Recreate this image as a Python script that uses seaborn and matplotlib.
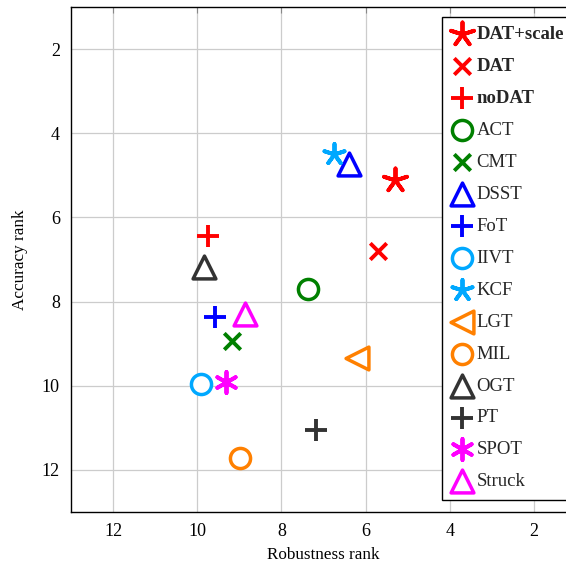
import matplotlib
matplotlib.use("Agg")
import matplotlib.pyplot as plt
import seaborn as sns

# tracker ranks
trackers = ['DAT+scale', 'DAT', 'noDAT', 'ACT', 'CMT', 'DSST', 'FoT', 'IIVT',
            'KCF', 'LGT', 'MIL', 'OGT', 'PT', 'SPOT', 'Struck']
robustness = [5.31, 5.71, 9.74, 7.36, 9.17, 6.40, 9.57, 9.90,
              6.76, 6.21, 8.98, 9.83, 7.19, 9.31, 8.86]
accuracy = [5.10, 6.79, 6.45, 7.69, 8.93, 4.74, 8.36, 9.95,
            4.50, 9.33, 11.71, 7.19, 11.05, 9.90, 8.29]

RED, GREEN, BLUE = '#ff0000', '#008000', '#0000ff'
CYAN, ORANGE, DARK, MAGENTA = '#00a8ff', '#ff8000', '#333333', '#ff00ff'
colors = [RED, RED, RED, GREEN, GREEN, BLUE, BLUE, CYAN,
          CYAN, ORANGE, ORANGE, DARK, DARK, MAGENTA, MAGENTA]
# (marker, size in pt^2, open?)
markers = [((5, 2, 0), 300, False), ('x', 140, False), ('+', 250, False),
           ('o', 210, True), ('x', 140, False), ('^', 270, True),
           ('+', 250, False), ('o', 210, True), ((5, 2, 0), 230, False),
           ('<', 270, True), ('o', 210, True), ('^', 270, True),
           ('+', 250, False), ((6, 2, 0), 230, False), ('^', 270, True)]
bold = {'DAT+scale', 'DAT', 'noDAT'}

sns.set_theme(style='whitegrid')
plt.rcParams['font.family'] = ['Liberation Serif', 'DejaVu Serif']

fig = plt.figure(figsize=(5.66, 5.65), dpi=100)
ax = fig.add_axes([71 / 566, 53 / 565, 505 / 566, 505 / 565])

for name, xr, yr, c, (m, s, hollow) in zip(trackers, robustness, accuracy, colors, markers):
    if hollow:
        sns.scatterplot(x=[xr], y=[yr], ax=ax, marker=m, s=s, facecolor='white',
                        edgecolor=c, linewidth=2.5, label=name, zorder=3)
    else:
        sns.scatterplot(x=[xr], y=[yr], ax=ax, marker=m, s=s, color=c,
                        linewidth=2.8, label=name, zorder=3)

ax.set_xlim(13, 1)
ax.set_ylim(13, 1)
ax.set_xticks([12, 10, 8, 6, 4, 2])
ax.set_yticks([2, 4, 6, 8, 10, 12])
ax.grid(True, color='#cccccc', linewidth=0.9)
ax.set_facecolor('white')
for sp in ax.spines.values():
    sp.set_color('black')
    sp.set_linewidth(1.0)
ax.tick_params(direction='in', length=4, width=0.8, color='#888888',
               top=True, right=True, labelsize=13, labelcolor='black', pad=8)
ax.set_xlabel('Robustness rank', fontsize=12.3, color='black', labelpad=5)
ax.set_ylabel('Accuracy rank', fontsize=12.3, color='black', labelpad=10)

leg = ax.legend(loc='upper left', bbox_to_anchor=(442 / 566, 1 - 16.7 / 565),
                bbox_transform=fig.transFigure, borderaxespad=0, fontsize=13.5,
                frameon=True, fancybox=False, framealpha=1, edgecolor='black',
                handletextpad=0.25, handlelength=1.1, labelspacing=0.79,
                borderpad=0.5)
leg.get_frame().set_linewidth(1.0)
for t in leg.get_texts():
    if t.get_text() in bold:
        t.set_fontweight('bold')

fig.savefig('out.png', dpi=100)
